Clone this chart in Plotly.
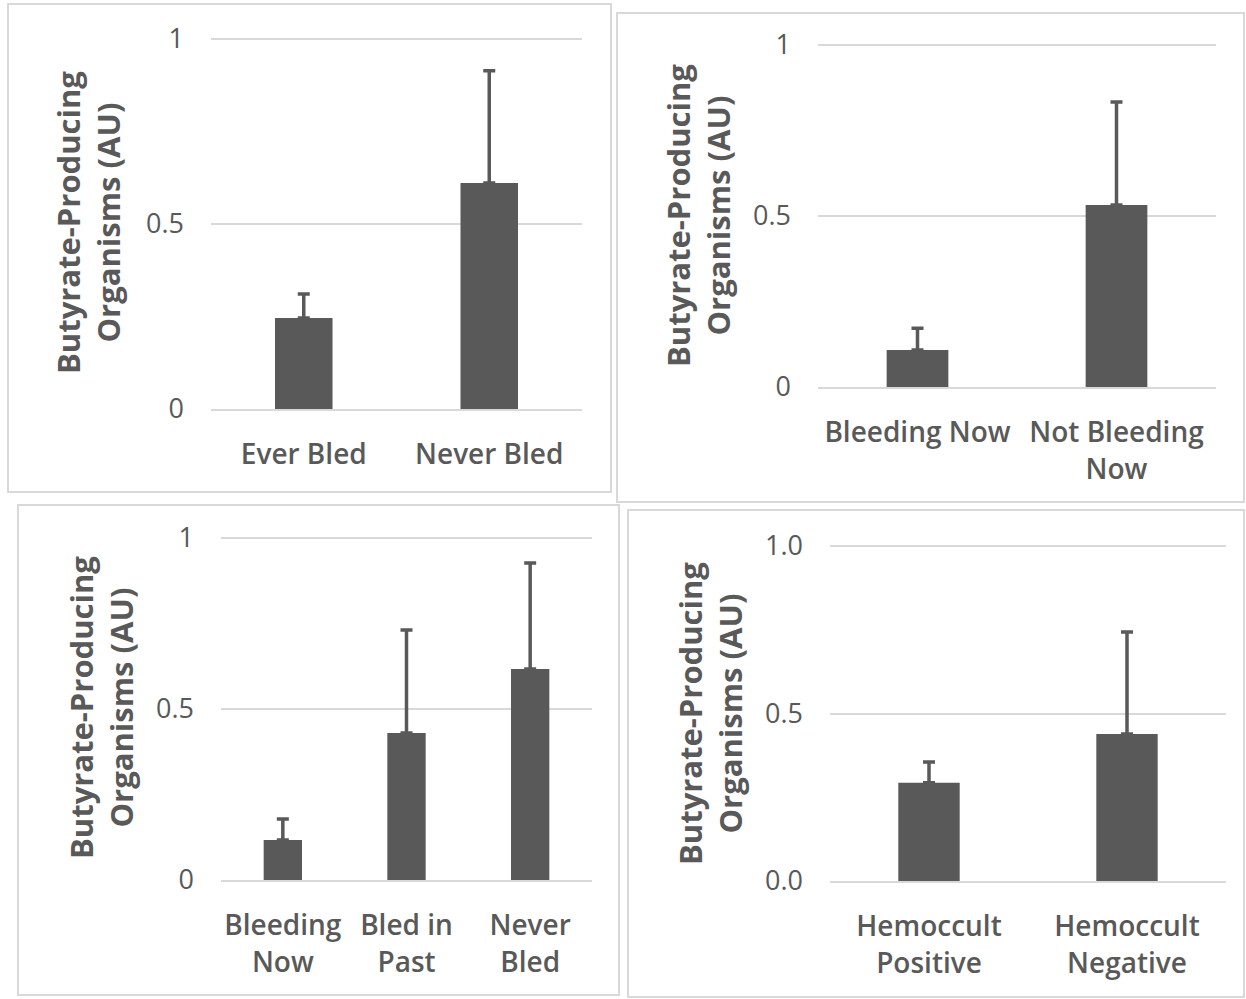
import plotly.graph_objects as go

# ---- data (means and upper error-bar lengths, arbitrary units) ----
cats_ever = ["Ever Bled", "Never Bled"]
mean_ever = [0.246, 0.611]
err_ever = [0.065, 0.303]

cats_now = ["Bleeding Now", "Not Bleeding<br>Now"]
mean_now = [0.108, 0.532]
err_now = [0.064, 0.301]

cats_hist = ["Bleeding<br>Now", "Bled in<br>Past", "Never<br>Bled"]
mean_hist = [0.117, 0.430, 0.617]
err_hist = [0.061, 0.301, 0.310]

cats_hemo = ["Hemoccult<br>Positive", "Hemoccult<br>Negative"]
mean_hemo = [0.293, 0.439]
err_hemo = [0.062, 0.304]

y_ticks = [0, 0.5, 1]
y_ticktext_plain = ["0", "0.5", "1"]
y_ticktext_dec = ["0.0", "0.5", "1.0"]

Y_TITLE = "Butyrate-Producing<br>Organisms (AU)"

W, H = 1246, 999
BAR = "#595959"
TXT = "#595959"
GRID = "#d9d9d9"
FONT = "'Open Sans', Lato, sans-serif"
Y_TOP = 1.02  # a little headroom so the gridline at 1 is drawn inside the plot


def px(x):
    return x / W


def py(y):
    return 1 - y / H


# panel layout in pixels: plot area (x0, x1, y at value 1, y at value 0), border box, title centre
panels = [
    dict(cats=cats_ever, mean=mean_ever, err=err_ever, ttext=y_ticktext_plain,
         plot=(211, 582, 39, 409), box=(8, 4, 611, 492), title=(88, 223)),
    dict(cats=cats_now, mean=mean_now, err=err_now, ttext=y_ticktext_plain,
         plot=(818, 1216, 45, 387), box=(617, 13, 1244, 502), title=(698, 216)),
    dict(cats=cats_hist, mean=mean_hist, err=err_hist, ttext=y_ticktext_plain,
         plot=(221, 592, 538, 880), box=(18, 505, 619, 995), title=(101, 707)),
    dict(cats=cats_hemo, mean=mean_hemo, err=err_hemo, ttext=y_ticktext_dec,
         plot=(830, 1226, 546, 881), box=(628, 510, 1244, 997), title=(710, 714)),
]

fig = go.Figure()
layout = dict(
    width=W, height=H,
    margin=dict(l=0, r=0, t=0, b=0, autoexpand=False),
    paper_bgcolor="white", plot_bgcolor="white",
    showlegend=False,
    font=dict(family=FONT, color=TXT, size=28),
    shapes=[], annotations=[],
)

for i, p in enumerate(panels, start=1):
    sfx = "" if i == 1 else str(i)
    x0, x1, y1, y0 = p["plot"]
    ytop_px = y0 - (y0 - y1) * Y_TOP
    fig.add_trace(go.Bar(
        x=p["cats"], y=p["mean"], width=0.31,
        marker=dict(color=BAR, line=dict(width=0)),
        error_y=dict(type="data", array=p["err"], arrayminus=[0] * len(p["err"]),
                     symmetric=False, color=BAR, thickness=3.5, width=6),
        xaxis="x" + sfx, yaxis="y" + sfx,
    ))
    layout["xaxis" + sfx] = dict(
        domain=[px(x0), px(x1)], anchor="y" + sfx, type="category",
        automargin=False,
        showgrid=False, showline=True, linecolor=GRID, linewidth=1.5,
        ticks="", ticklabelstandoff=20,
        tickfont=dict(size=28, color=TXT, family=FONT, weight=600),
    )
    layout["yaxis" + sfx] = dict(
        domain=[py(y0), py(ytop_px)], anchor="x" + sfx, range=[0, Y_TOP],
        automargin=False,
        tickmode="array", tickvals=y_ticks, ticktext=p["ttext"],
        showgrid=True, gridcolor=GRID, gridwidth=1.5, zeroline=False,
        showline=False, ticks="", ticklabelstandoff=26,
        tickfont=dict(size=27, color=TXT, family=FONT),
    )
    bx0, by0, bx1, by1 = p["box"]
    layout["shapes"].append(dict(
        type="rect", xref="paper", yref="paper",
        x0=px(bx0), x1=px(bx1), y0=py(by1), y1=py(by0),
        line=dict(color=GRID, width=2), fillcolor="rgba(0,0,0,0)", layer="below",
    ))
    tx, ty = p["title"]
    layout["annotations"].append(dict(
        xref="paper", yref="paper", x=px(tx), y=py(ty),
        xanchor="center", yanchor="middle", textangle=-90, showarrow=False,
        text="<b>" + Y_TITLE.replace("<br>", "</b><br><b>") + "</b>",
        font=dict(size=31, color=TXT, family=FONT),
    ))

fig.update_layout(**layout)
fig.write_html("out.html")
